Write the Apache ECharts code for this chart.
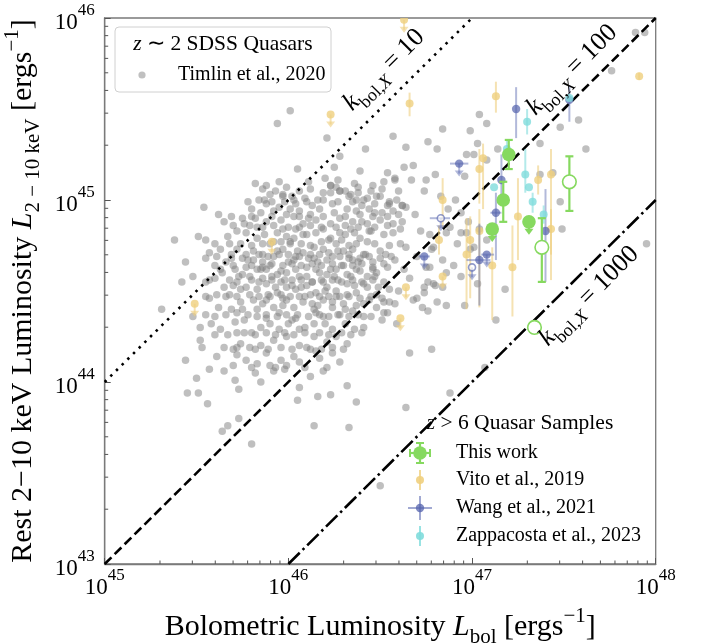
<!DOCTYPE html>
<html><head><meta charset="utf-8">
<script src="https://cdn.jsdelivr.net/npm/echarts@6/dist/echarts.min.js"></script>
<style>html,body{margin:0;padding:0;background:#fff}#c{width:704px;height:643px}</style>
</head><body><div id="c"></div>
<script>
// ---- axis ranges / tick exponents (log10 luminosity) ----
const xTickExps = [45, 46, 47, 48];
const yTickExps = [43, 44, 45, 46];
const minorMult = [2, 3, 4, 5, 6, 7, 8, 9];

// ---- bolometric corrections k_bol,X ----
const kbolValues = [10, 100, 1000];

// ---- Timlin et al. 2020 (z~2 SDSS quasars): [log Lbol, log L2-10keV] ----
const timlin = [
[45.82,45.09],[45.88,45.08],[46.23,45.08],[46.28,45.05],[46.52,45.10],[46.58,45.11],[45.90,45.03],[45.97,45.03],[46.03,45.00],[46.09,45.01],[46.16,45.00],[46.23,45.04],[46.34,45.03],[46.41,45.00],[46.48,45.02],[46.54,44.97],[46.59,45.00],[45.88,44.98],[45.95,44.96],[46.01,44.95],[46.06,44.94],[46.13,44.97],[46.17,44.95],[46.24,44.98],[46.32,44.95],[46.37,44.94],[46.44,44.95],[46.51,44.93],[46.57,44.94],[45.80,44.95],[45.85,44.93],[45.92,44.94],
[45.69,44.91],[45.65,44.88],[45.72,44.83],[45.83,44.85],[45.88,44.88],[45.96,44.89],[46.03,44.91],[46.08,44.87],[46.15,44.89],[46.23,44.87],[46.28,44.90],[46.35,44.88],[46.43,44.87],[46.50,44.89],[46.57,44.87],[45.77,44.82],[45.83,44.79],[45.86,44.76],[45.94,44.82],[45.99,44.80],[46.04,44.84],[46.10,44.81],[46.15,44.82],[46.23,44.79],[46.28,44.82],[46.34,44.84],[46.39,44.79],[46.44,44.83],[46.52,44.81],[46.57,44.82],[45.38,44.78],[45.51,44.80],[45.55,44.78],[45.57,44.71],[45.63,44.73],[45.66,44.66],[45.72,44.73],[45.77,44.70],
[45.81,44.67],[45.86,44.66],[45.92,44.69],[45.97,44.73],[46.03,44.67],[46.08,44.71],[46.14,44.68],[46.19,44.73],[46.24,44.69],[46.30,44.72],[46.35,44.67],[46.41,44.70],[46.46,44.66],[46.53,44.70],[46.58,44.67],[45.77,44.63],[45.83,44.62],[45.88,44.62],[45.94,44.59],[45.99,44.60],[46.04,44.62],[46.10,44.58],[46.15,44.62],[46.21,44.59],[46.26,44.62],[46.32,44.59],[46.37,44.62],[46.43,44.58],[46.48,44.60],[46.54,44.63],[45.44,44.66],[45.42,44.55],[45.48,44.58],[45.57,44.56],[45.63,44.62],[45.65,44.52],[45.75,44.59],
[45.77,44.52],[45.83,44.51],[45.88,44.54],[45.94,44.49],[45.99,44.52],[46.04,44.51],[46.10,44.53],[46.15,44.49],[46.21,44.52],[46.26,44.50],[46.32,44.54],[46.37,44.49],[46.43,44.52],[46.48,44.48],[46.55,44.51],[45.68,44.48],[45.74,44.51],[45.81,44.45],[45.86,44.43],[45.92,44.41],[45.97,44.46],[46.03,44.41],[46.08,44.44],[46.14,44.40],[46.19,44.45],[46.24,44.41],[46.30,44.43],[46.35,44.39],[46.41,44.43],[46.48,44.41],[46.54,44.38],[46.58,44.43],[45.31,44.40],[45.57,44.46],[45.62,44.41],[45.69,44.40],[45.75,44.40],
[45.52,44.30],[45.48,44.36],[45.58,44.32],[45.63,44.29],[45.66,44.37],[45.71,44.33],[45.72,44.27],[45.80,44.27],[45.85,44.30],[45.90,44.32],[45.95,44.29],[46.02,44.34],[46.06,44.29],[46.14,44.32],[46.19,44.36],[46.24,44.29],[46.31,44.32],[46.36,44.29],[46.41,44.36],[46.52,44.38],[46.59,44.32],[45.74,44.21],[45.79,44.19],[45.85,44.20],[45.92,44.23],[45.99,44.25],[46.06,44.20],[46.14,44.25],[46.21,44.22],[46.26,44.25],[46.32,44.21],[45.52,44.23],[45.44,44.12],
[45.53,44.19],[45.61,44.14],[45.70,44.18],[45.72,44.15],[45.77,44.12],[45.83,44.10],[45.88,44.16],[45.93,44.08],[45.96,44.12],[46.03,44.14],[46.06,44.11],[46.12,44.18],[46.17,44.13],[46.24,44.16],[46.28,44.11],[45.65,44.06],[45.71,44.01],[45.73,43.96],[45.57,44.07],[45.92,44.06],[45.98,44.07],[46.19,44.06],[46.15,44.17],
[45.50,44.02],[45.45,43.94],[45.51,43.94],[45.56,43.88],[45.82,44.05],[45.85,44.00],[46.06,43.97],[46.12,44.03],[46.16,43.92],[46.23,43.93],[46.05,43.90],[46.32,43.98],[46.37,43.89],[46.14,43.76],[46.33,43.75],[45.73,43.80],[45.67,43.76],
[46.01,45.49],[46.84,45.39],[46.57,45.35],[46.64,45.29],[46.76,45.32],[46.81,45.28],[46.42,45.28],[46.28,45.24],[46.05,45.17],[46.25,45.18],[46.39,45.16],[46.54,45.15],[46.58,45.12],[46.63,45.18],[46.68,45.19],[46.75,45.11],[46.80,45.14],[46.67,45.11],[46.74,45.05],[46.83,45.02],[46.23,45.08],[46.28,45.05],[45.97,45.02],[46.64,44.96],[46.69,44.92],[46.62,44.97],[46.72,44.83],[46.64,44.74],[46.70,44.69],[46.79,44.74],[46.84,44.67],[46.75,44.63],[46.33,45.02],[46.37,45.00],[46.43,45.01],[46.50,45.02],[46.55,44.98],[46.38,45.04],[46.21,45.34],
[45.94,45.42],[45.54,44.96],[45.64,43.73],[45.80,43.66],
[46.66,44.57],[46.76,44.55],[46.80,44.53],[46.84,44.52],[46.81,44.44],[46.86,44.42],[46.70,44.46],[46.76,44.39],[46.68,44.45],[46.74,44.49],[46.66,44.16],[46.78,44.18],[46.64,43.86],
[47.89,45.92],[47.94,45.92],[47.76,45.71],[47.04,45.47],[47.08,45.42],[46.99,45.38],[47.03,45.31],[46.97,45.25],[47.01,45.25],[47.08,45.22],[47.14,45.28],[47.48,45.40],[47.58,45.44],[47.62,45.28],[47.37,45.31],[47.37,45.14],[47.48,44.99],[47.49,44.84],[47.44,45.15],[46.96,45.13],[46.91,45.00],[46.87,44.95],[46.94,44.93],[46.98,44.88],[46.94,44.82],[47.04,44.84],[47.01,44.74],[47.08,44.78],[47.95,44.76],
[47.18,44.51],[47.13,44.34],[46.96,44.42],[47.03,44.54],[46.90,44.64],[46.94,44.58],[46.86,44.60],[46.77,44.63],[46.78,44.73],[46.74,44.52],[46.79,44.54],[46.73,44.41],[46.92,44.76],[46.99,44.73],[46.97,44.82],[46.86,44.82],[46.88,44.85],[46.77,44.81],
[46.50,43.43],[47.07,44.08],[46.88,43.94],
[45.86,45.06],[45.93,45.05],[45.99,45.07],[46.06,45.05],[46.12,45.06],[46.19,45.04],[46.26,45.07],[46.31,45.05],[46.38,45.07],[46.45,45.05],[46.51,45.06],
[45.78,44.99],[45.84,45.00],[45.91,44.99],[45.98,44.99],[46.04,44.98],[46.10,44.99],[46.19,45.00],[46.27,44.99],[46.35,44.99],[46.40,44.97],[46.47,44.98],[46.55,44.99],[46.62,44.97],
[45.62,44.92],[45.75,44.90],[45.80,44.91],[45.91,44.91],[45.99,44.92],[46.06,44.91],[46.12,44.92],[46.19,44.91],[46.25,44.93],[46.31,44.91],[46.39,44.92],[46.46,44.91],[46.54,44.91],[46.60,44.92],
[45.70,44.86],[45.79,44.86],[45.86,44.85],[45.92,44.86],[46.00,44.85],[46.06,44.85],[46.12,44.86],[46.19,44.84],[46.26,44.85],[46.31,44.86],[46.38,44.85],[46.47,44.85],[46.54,44.86],[46.61,44.84],
[45.60,44.76],[45.68,44.76],[45.74,44.76],[45.80,44.75],[45.90,44.76],[45.96,44.77],[46.01,44.76],[46.07,44.76],[46.12,44.75],[46.18,44.77],[46.26,44.76],[46.33,44.75],[46.37,44.76],[46.47,44.76],[46.55,44.75],[46.61,44.76],
[45.55,44.68],[45.61,44.69],[45.69,44.70],[45.75,44.68],[45.84,44.70],[45.89,44.69],[45.95,44.70],[46.00,44.70],[46.06,44.69],[46.11,44.68],[46.17,44.70],[46.22,44.71],[46.28,44.69],[46.33,44.70],[46.39,44.68],[46.44,44.69],[46.50,44.68],[46.56,44.69],
[45.60,44.64],[45.70,44.64],[45.80,44.64],[45.86,44.63],[45.91,44.65],[45.97,44.64],[46.02,44.65],[46.07,44.64],[46.13,44.65],[46.18,44.64],[46.24,44.65],[46.29,44.64],[46.35,44.64],[46.40,44.65],[46.46,44.63],[46.52,44.65],
[45.55,44.55],[45.60,44.57],[45.68,44.56],[45.72,44.55],[45.80,44.56],[45.86,44.57],[45.91,44.56],[45.96,44.55],[46.02,44.56],[46.07,44.56],[46.13,44.55],[46.18,44.56],[46.24,44.56],[46.29,44.55],[46.35,44.56],[46.40,44.55],[46.46,44.56],[46.52,44.55],
[45.55,44.47],[45.61,44.48],[45.72,44.47],[45.79,44.48],[45.84,44.47],[45.90,44.47],[45.96,44.48],[46.01,44.47],[46.06,44.47],[46.12,44.48],[46.17,44.47],[46.22,44.47],[46.28,44.47],[46.33,44.47],[46.39,44.46],[46.45,44.47],[46.51,44.46],
[45.55,44.37],[45.60,44.36],[45.72,44.38],[45.78,44.37],[45.83,44.36],[45.88,44.37],[45.94,44.36],[45.99,44.37],[46.05,44.37],[46.11,44.36],[46.17,44.37],[46.22,44.36],[46.27,44.37],[46.33,44.36],[46.38,44.37],[46.45,44.36],
[45.60,44.26],[45.67,44.26],[45.76,44.27],[45.82,44.26],[45.88,44.27],[45.93,44.26],[45.98,44.27],[46.03,44.26],[46.09,44.27],[46.17,44.27],[46.22,44.26],[46.29,44.27],[46.34,44.26],[46.40,44.27],
[45.65,44.19],[45.72,44.19],[45.82,44.18],[45.89,44.18],[45.96,44.19],[46.02,44.18],[46.10,44.19],[46.18,44.18],[46.24,44.19],[46.30,44.18],
[45.70,44.09],[45.80,44.08],[45.90,44.09],[45.99,44.09],[46.09,44.08],[46.21,44.08],
[45.67,44.80],[45.71,44.62],[45.74,44.44],[45.76,44.87],[45.79,44.58],[45.81,44.72],[45.83,44.40],[45.84,44.55],[45.87,44.81],[45.89,44.48],[45.90,44.64],[45.92,44.77],[45.93,44.52],[45.95,44.38],[45.96,44.61],[45.97,44.84],[45.99,44.45],[46.00,44.66],[46.01,44.77],[46.02,44.53],[46.04,44.35],[46.05,44.72],[46.06,44.58],[46.08,44.81],[46.09,44.47],[46.10,44.63],[46.11,44.90],[46.13,44.55],[46.14,44.74],[46.16,44.42],[46.17,44.60],[46.18,44.85],[46.20,44.50],[46.21,44.67],[46.22,44.78],[46.24,44.44],[46.25,44.58],[46.27,44.72],[46.28,44.37],[46.30,44.64],[46.31,44.81],[46.32,44.48],[46.34,44.58],[46.35,44.73],[46.37,44.42],[46.38,44.66],[46.40,44.88],[46.41,44.54],[46.43,44.77],[46.44,44.45],[46.46,44.62],[46.47,44.93],[46.49,44.52],[46.50,44.72],[46.52,44.44],
[45.78,44.67],[45.82,44.90],[45.86,44.70],[45.88,44.35],[45.91,44.58],[45.94,44.72],[45.98,44.56],[46.03,44.79],[46.07,44.52],[46.12,44.70],[46.15,44.38],[46.19,44.55],[46.23,44.62],[46.26,44.47],[46.29,44.78],[46.33,44.68],[46.36,44.53],[46.39,44.61],[46.42,44.70],[46.45,44.83],
[45.73,44.58],[45.76,44.34],[45.85,44.62],[45.88,44.45],[45.97,44.42],[46.00,44.32],[46.04,44.69],[46.09,44.30],[46.13,44.43],[46.16,44.66],[46.20,44.32],[46.27,44.56],[46.31,44.40],[46.36,44.82],[46.41,44.30],[46.47,44.58],[45.64,44.60],[45.66,44.47],[45.69,44.68],[45.70,44.53],
[45.87,45.00],[45.95,45.10],[46.02,45.02],[46.11,45.10],[46.20,45.12],[46.27,45.11],[46.36,45.09],[46.46,45.08],[46.60,45.05],[46.62,44.88],[46.63,44.62],[46.60,44.50],[46.55,44.44],[46.51,44.34]
];

// ---- This work: [log Lbol, log LX, LX low, LX high] ----
const thisWorkDet = [[47.20,45.25,45.17,45.33],[47.17,45.00,44.88,45.10]];
const thisWorkUL = [[47.11,44.84],[47.31,44.88]];
const thisWorkOpen = [[47.53,45.10,44.94,45.24],[47.38,44.74,44.55,44.90],[47.34,44.30,44.27,44.33]];

// ---- Vito et al. 2019 ----
const vitoDet = [
[46.66,45.53,45.46,45.59],[47.13,45.57,45.48,45.65],[47.91,45.68,45.66,45.70],[47.43,45.14,44.56,45.28],
[47.06,45.23,44.95,45.31],[47.04,45.17,44.98,45.28],[47.04,44.83,44.41,44.95],[46.99,44.78,44.46,44.91],
[46.97,44.70,44.40,44.90],[47.11,44.64,44.34,44.74],[47.22,44.63,44.36,44.86],[47.25,44.91,44.67,45.12],
[47.36,45.11,45.03,45.19],[47.43,44.84,44.70,44.95],[46.84,45.00,44.85,45.12],[46.82,44.78,44.70,44.86]
];
const vitoUL = [[46.63,45.99],[46.84,44.58],[46.64,44.52],[46.61,44.35],[45.49,44.43],[45.91,44.77],[46.23,45.47]];

// ---- Wang et al. 2021: [lbol, lx, lxLo, lxHi, lbolLo, lbolHi] ----
const wangDet = [
[47.24,45.50,45.34,45.62,null,null],[47.53,45.55,45.43,45.63,null,null],[47.16,45.11,44.98,45.25,null,null],
[47.13,44.93,44.67,45.04,47.10,47.16],[47.40,44.83,44.55,45.06,null,null],[47.04,44.67,44.42,44.87,46.97,47.10]
];
// upper limits: [lbol, lx, lbolLo, lbolHi, open]
const wangUL = [[46.93,45.20,46.88,46.98,0],[46.83,44.90,46.77,46.88,1],[47.08,44.70,47.05,47.12,0],[46.74,44.69,46.71,46.77,0],[47.00,44.63,null,null,1]];

// ---- Zappacosta et al. 2023 ----
const zappDet = [[47.53,45.56,null,null],[47.30,45.43,45.36,45.50],[47.19,45.28,45.23,45.33],[47.29,45.14,45.04,45.28],
[47.31,45.07,null,null],[47.33,44.99,44.93,45.04],[47.12,45.07,null,null],[47.39,44.92,44.87,44.97]];

const SERIF = '"Liberation Serif","Times New Roman",serif';
const C_GREEN = '#86d95f', C_YEL = '#efcf7e', C_BLUE = '#5463ad', C_CYAN = '#80dcdc';

const chart = echarts.init(document.getElementById('c'), null, {renderer:'canvas'});

function tickLabelRich(){
  return {
    b:{fontFamily:SERIF,fontSize:23,lineHeight:23,verticalAlign:'bottom',color:'#000'},
    s:{fontFamily:SERIF,fontSize:17,lineHeight:17,verticalAlign:'top',color:'#000'},
    h:{fontSize:1,lineHeight:32}
  };
}
const nameRich = {
  n:{fontFamily:SERIF,fontSize:30,lineHeight:42,color:'#000'},
  i:{fontFamily:SERIF,fontSize:30,lineHeight:42,fontStyle:'italic',color:'#000'},
  sub:{fontFamily:SERIF,fontSize:21,lineHeight:21,verticalAlign:'bottom',color:'#000'},
  sup:{fontFamily:SERIF,fontSize:21,lineHeight:21,verticalAlign:'top',color:'#000'}
};

function errRender(rows, o){
  return function(params, api){
    const r = rows[params.dataIndex];
    const c = api.coord([r[0], r[1]]);
    const ch = [];
    const ls = {stroke:o.color, lineWidth:o.lw, opacity:o.op};
    if (o.ycols && r[o.ycols[0]] != null){
      const a = api.coord([r[0], r[o.ycols[0]]]), b = api.coord([r[0], r[o.ycols[1]]]);
      ch.push({type:'line', shape:{x1:c[0],y1:a[1],x2:c[0],y2:b[1]}, style:ls});
      if (o.cap){
        ch.push({type:'line', shape:{x1:c[0]-o.cap,y1:a[1],x2:c[0]+o.cap,y2:a[1]}, style:ls});
        ch.push({type:'line', shape:{x1:c[0]-o.cap,y1:b[1],x2:c[0]+o.cap,y2:b[1]}, style:ls});
      }
    }
    if (o.xcols && r[o.xcols[0]] != null){
      const a = api.coord([r[o.xcols[0]], r[1]]), b = api.coord([r[o.xcols[1]], r[1]]);
      ch.push({type:'line', shape:{x1:a[0],y1:c[1],x2:b[0],y2:c[1]}, style:ls});
    }
    if (o.ul){
      const L = o.ulLen, tip = c[1] + L;
      ch.push({type:'line', shape:{x1:c[0],y1:c[1],x2:c[0],y2:tip-3}, style:ls});
      ch.push({type:'polygon', shape:{points:[[c[0]-4.5,tip-6],[c[0]+4.5,tip-6],[c[0],tip]]}, style:{fill:o.color, opacity:o.op}});
    }
    const open = o.openCol != null ? r[o.openCol] === 1 : o.open;
    ch.push({type:'circle', shape:{cx:c[0],cy:c[1],r:open ? (o.openR||o.r) : o.r},
      style: open ? {fill:'#fff', stroke:o.color, lineWidth:1.6, opacity: Math.min(1,o.op+0.2)} : {fill:o.color, opacity:o.mop}});
    return {type:'group', children:ch};
  };
}
function errSeries(rows, o, z){
  return {type:'custom', coordinateSystem:'cartesian2d', clip:true, z:z, silent:true,
    data: rows.map(r=>[r[0], r[1]]), renderItem: errRender(rows, o)};
}

// minor ticks
const xMinor = [], yMinor = [];
for (let e = xTickExps[0]; e < xTickExps[xTickExps.length-1]; e++) minorMult.forEach(m=>xMinor.push(e+Math.log10(m)));
for (let e = yTickExps[0]; e < yTickExps[yTickExps.length-1]; e++) minorMult.forEach(m=>yMinor.push(e+Math.log10(m)));

const kLines = kbolValues.map((k, i)=>{
  const dk = Math.log10(k);
  const x0 = Math.max(xTickExps[0], yTickExps[0] + dk);
  const x1 = Math.min(xTickExps[3], yTickExps[3] + dk);
  const dash = [[2.5,5.5],[9.5,4.5],[16,4,2.5,4]][i];
  return {type:'line', data:[[x0, x0-dk],[x1, x1-dk]], symbol:'none', silent:true, z:3,
    lineStyle:{color:'#000', width:2.6, type:dash, cap:'butt'}};
});

function kLabel(val){
  return '{i|k}{sub|bol,}{subi|X}{n| = ' + val + '}';
}
const kRich = {
  n:{fontFamily:SERIF,fontSize:26,lineHeight:38,color:'#000'},
  i:{fontFamily:SERIF,fontSize:26,lineHeight:38,fontStyle:'italic',color:'#000'},
  sub:{fontFamily:SERIF,fontSize:18,lineHeight:18,verticalAlign:'bottom',color:'#000'},
  subi:{fontFamily:SERIF,fontSize:18,lineHeight:18,verticalAlign:'bottom',fontStyle:'italic',color:'#000'}
};
const legRich = {
  n:{fontFamily:SERIF,fontSize:21.5,color:'#000'},
  i:{fontFamily:SERIF,fontSize:21.5,fontStyle:'italic',color:'#000'}
};

const graphics = [
  // k_bol labels
  {type:'text', x:384, y:70, rotation:Math.PI/4, z:50, style:{text:kLabel(kbolValues[0]), rich:kRich, align:'center', verticalAlign:'middle'}},
  {type:'text', x:572, y:70, rotation:Math.PI/4, z:50, style:{text:kLabel(kbolValues[1]), rich:kRich, align:'center', verticalAlign:'middle'}},
  {type:'text', x:589, y:296, rotation:Math.PI/4, z:50, style:{text:kLabel(kbolValues[2]), rich:kRich, align:'center', verticalAlign:'middle'}},
  // upper legend
  {type:'rect', shape:{x:115,y:27,width:216,height:65,r:4}, z:40, style:{fill:'rgba(255,255,255,0.8)', stroke:'#d0d0d0', lineWidth:1}},
  {type:'text', x:223, y:44, z:41, style:{text:'{i|z}{n| ∼ 2 SDSS Quasars}', rich:legRich, align:'center', verticalAlign:'middle'}},
  {type:'circle', shape:{cx:142, cy:75, r:3.6}, z:41, style:{fill:'#c0c0c0'}},
  {type:'text', x:178, y:75, z:41, style:{text:'Timlin et al., 2020', fontFamily:SERIF, fontSize:20, fill:'#000', align:'left', verticalAlign:'middle'}},
  // lower legend
  {type:'text', x:520, y:423, z:41, style:{text:'{i|z}{n| > 6 Quasar Samples}', rich:legRich, align:'center', verticalAlign:'middle'}},
  {type:'text', x:456, y:453, z:41, style:{text:'This work', fontFamily:SERIF, fontSize:20, fill:'#000', verticalAlign:'middle'}},
  {type:'text', x:456, y:480, z:41, style:{text:'Vito et al., 2019', fontFamily:SERIF, fontSize:20, fill:'#000', verticalAlign:'middle'}},
  {type:'text', x:456, y:508, z:41, style:{text:'Wang et al., 2021', fontFamily:SERIF, fontSize:20, fill:'#000', verticalAlign:'middle'}},
  {type:'text', x:456, y:536, z:41, style:{text:'Zappacosta et al., 2023', fontFamily:SERIF, fontSize:20, fill:'#000', verticalAlign:'middle'}},
  // legend markers
  {type:'line', shape:{x1:410,y1:453,x2:430,y2:453}, z:41, style:{stroke:C_GREEN, lineWidth:2.2}},
  {type:'line', shape:{x1:420,y1:443,x2:420,y2:463}, z:41, style:{stroke:C_GREEN, lineWidth:2.2}},
  {type:'line', shape:{x1:410,y1:449,x2:410,y2:457}, z:41, style:{stroke:C_GREEN, lineWidth:2}},
  {type:'line', shape:{x1:430,y1:449,x2:430,y2:457}, z:41, style:{stroke:C_GREEN, lineWidth:2}},
  {type:'line', shape:{x1:416,y1:443,x2:424,y2:443}, z:41, style:{stroke:C_GREEN, lineWidth:2}},
  {type:'line', shape:{x1:416,y1:463,x2:424,y2:463}, z:41, style:{stroke:C_GREEN, lineWidth:2}},
  {type:'circle', shape:{cx:420,cy:453,r:6.8}, z:42, style:{fill:C_GREEN}},
  {type:'line', shape:{x1:420,y1:470,x2:420,y2:490}, z:41, style:{stroke:C_YEL, lineWidth:2, opacity:0.8}},
  {type:'circle', shape:{cx:420,cy:480,r:4}, z:42, style:{fill:C_YEL, opacity:0.9}},
  {type:'line', shape:{x1:408,y1:508,x2:432,y2:508}, z:41, style:{stroke:C_BLUE, lineWidth:2, opacity:0.55}},
  {type:'line', shape:{x1:420,y1:496,x2:420,y2:520}, z:41, style:{stroke:C_BLUE, lineWidth:2, opacity:0.55}},
  {type:'circle', shape:{cx:420,cy:508,r:4.2}, z:42, style:{fill:C_BLUE, opacity:0.75}},
  {type:'line', shape:{x1:420,y1:526,x2:420,y2:546}, z:41, style:{stroke:C_CYAN, lineWidth:2, opacity:0.8}},
  {type:'circle', shape:{cx:420,cy:536,r:4}, z:42, style:{fill:C_CYAN, opacity:0.9}}
];

const option = {
  animation:false,
  backgroundColor:'#fff',
  grid:{left:104.7, right:48.3, top:18, bottom:79, outerBoundsMode:'none', containLabel:false,
    show:true, borderColor:'#7a7a7a', borderWidth:1.3, backgroundColor:'transparent'},
  xAxis:{type:'value', min:xTickExps[0], max:xTickExps[3], interval:1,
    axisLine:{show:true, lineStyle:{color:'#7a7a7a', width:1.3}},
    axisTick:{show:true, inside:true, length:6, lineStyle:{color:'#555', width:1}},
    splitLine:{show:false},
    axisLabel:{margin:3, formatter:v=>'{h|\u200b}{b|10}{s|'+v+'}', rich:tickLabelRich()},
    name:'{n|Bolometric Luminosity }{i|L}{sub|bol}{n| [ergs}{sup|−1}{n|]}', nameLocation:'middle', nameGap:42,
    nameTextStyle:{rich:nameRich}},
  yAxis:{type:'value', min:yTickExps[0], max:yTickExps[3], interval:1,
    axisLine:{show:true, lineStyle:{color:'#7a7a7a', width:1.3}},
    axisTick:{show:true, inside:true, length:6, lineStyle:{color:'#555', width:1}},
    splitLine:{show:false},
    axisLabel:{margin:10, formatter:v=>'{h|\u200b}{b|10}{s|'+v+'}', rich:tickLabelRich()},
    name:'{n|Rest 2−10 keV Luminosity }{i|L}{sub|2 − 10 keV}{n| [ergs}{sup|−1}{n|]}', nameLocation:'middle', nameGap:54, nameRotate:90,
    nameTextStyle:{rich:nameRich}},
  graphic: graphics,
  series:[
    {type:'scatter', data:timlin, symbolSize:7.5, z:2, silent:true, itemStyle:{color:'#808080', opacity:0.5}},
    ...kLines,
    errSeries(vitoDet, {color:C_YEL, lw:2, op:0.6, mop:0.8, r:4, ycols:[2,3]}, 4),
    errSeries(vitoUL, {color:C_YEL, lw:2, op:0.6, mop:0.8, r:4, ul:true, ulLen:13}, 4),
    errSeries(wangDet, {color:C_BLUE, lw:2, op:0.45, mop:0.7, r:4.2, ycols:[2,3], xcols:[4,5]}, 5),
    errSeries(wangUL, {color:C_BLUE, lw:2, op:0.45, mop:0.7, r:4.2, xcols:[2,3], ul:true, ulLen:13, openCol:4, openR:3.5}, 5),
    errSeries(zappDet, {color:C_CYAN, lw:2, op:0.6, mop:0.8, r:4, ycols:[2,3]}, 6),
    errSeries(thisWorkDet, {color:C_GREEN, lw:2.2, op:1, mop:1, r:6.8, ycols:[2,3], cap:4}, 7),
    errSeries(thisWorkUL, {color:C_GREEN, lw:2.2, op:1, mop:1, r:6.8, ul:true, ulLen:13}, 7),
    errSeries(thisWorkOpen, {color:C_GREEN, lw:2.2, op:1, mop:1, r:6.8, ycols:[2,3], cap:4, open:true}, 7),
    {type:'custom', coordinateSystem:'cartesian2d', clip:false, z:8, silent:true,
      data: xMinor.map(v=>[v, yTickExps[0]]),
      renderItem:(p, api)=>{ const c = api.coord([api.value(0), api.value(1)]);
        return {type:'line', shape:{x1:c[0],y1:c[1],x2:c[0],y2:c[1]-3.5}, style:{stroke:'#555', lineWidth:1}}; }},
    {type:'custom', coordinateSystem:'cartesian2d', clip:false, z:8, silent:true,
      data: yMinor.map(v=>[xTickExps[0], v]),
      renderItem:(p, api)=>{ const c = api.coord([api.value(0), api.value(1)]);
        return {type:'line', shape:{x1:c[0],y1:c[1],x2:c[0]+3.5,y2:c[1]}, style:{stroke:'#555', lineWidth:1}}; }}
  ]
};
chart.setOption(option);
</script></body></html>
